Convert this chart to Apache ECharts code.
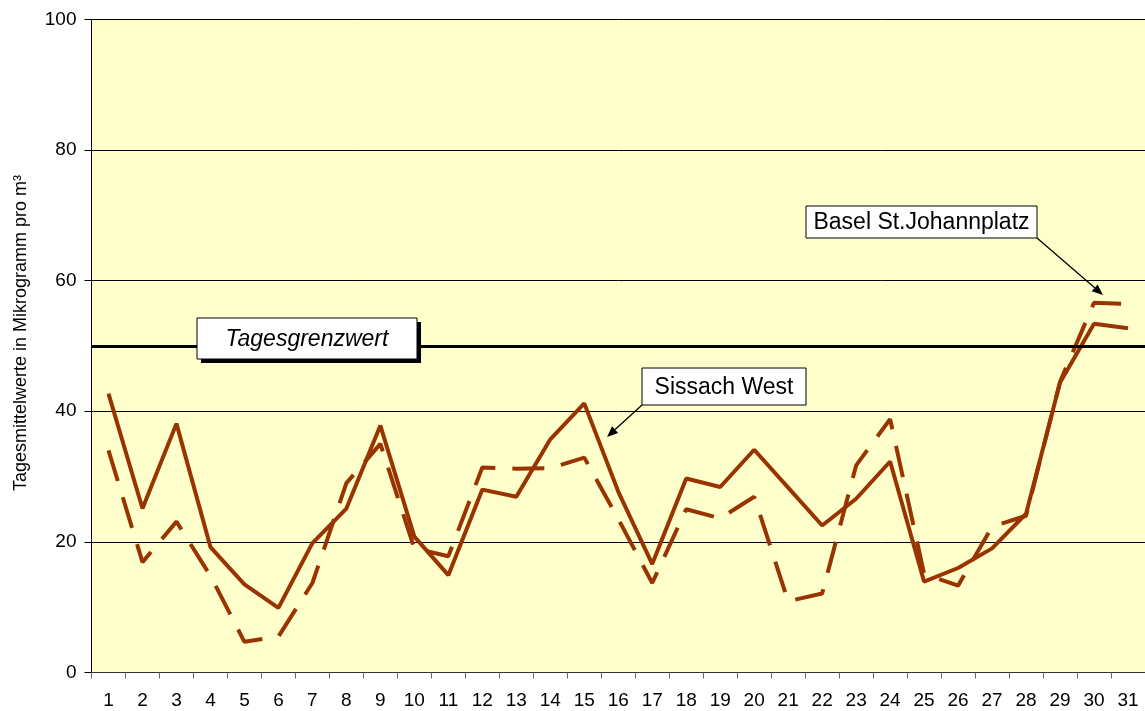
<!DOCTYPE html>
<html>
<head>
    <meta charset="utf-8">
    <title>Tagesmittelwerte</title>
    <script src="https://cdn.jsdelivr.net/npm/echarts@6/dist/echarts.min.js"></script>
    <style>
        html, body { margin: 0; padding: 0; background: #fff; }
        #chart { width: 1145px; height: 711px; }
    </style>
</head>
<body>
<div id="chart"></div>
<script type="text/javascript">
    // Tage im Monat
    var days = ['1','2','3','4','5','6','7','8','9','10','11','12','13','14','15','16',
                '17','18','19','20','21','22','23','24','25','26','27','28','29','30','31'];
    // Sissach West (ausgezogen)
    var sissach = [42.7, 25.1, 38.1, 19.2, 13.5, 9.9, 19.8, 25.1, 37.8, 20.8, 14.9, 28.0, 26.9, 35.7, 41.2, 27.7,
                   16.6, 29.7, 28.4, 34.1, 28.3, 22.5, 26.6, 32.3, 13.9, 16.0, 19.0, 24.3, 44.4, 53.4, 52.7];
    // Basel St.Johannplatz (gestrichelt)
    var basel = [34.0, 16.9, 23.1, 14.8, 4.7, 5.5, 13.7, 29.0, 35.0, 19.0, 17.8, 31.4, 31.2, 31.3, 32.9, 23.5,
                 13.7, 25.0, 23.6, 26.9, 10.9, 12.1, 31.7, 38.8, 15.1, 13.3, 22.3, 24.0, 44.5, 56.6, 56.4];
    // Tagesgrenzwert
    var limit = 50;
    var yTicks = [0, 20, 40, 60, 80, 100];

    var font = "'Liberation Sans', Arial, sans-serif";
    var brown = '#993300';

    // Pfeil von (x1,y1) nach (x2,y2)
    function arrow(x1, y1, x2, y2) {
        var dx = x2 - x1, dy = y2 - y1;
        var len = Math.sqrt(dx * dx + dy * dy);
        var ux = dx / len, uy = dy / len;
        var hl = 11, hw = 4.5;
        var bx = x2 - ux * hl, by = y2 - uy * hl;
        return [
            {type: 'line', z: 100, shape: {x1: x1, y1: y1, x2: bx, y2: by},
                style: {stroke: '#000', lineWidth: 1.3}},
            {type: 'polygon', z: 100, shape: {points: [[x2, y2], [bx - uy * hw, by + ux * hw], [bx + uy * hw, by - ux * hw]]},
                style: {fill: '#000'}}
        ];
    }

    function box(x, y, w, h, text, italic, shadow) {
        var els = [];
        if (shadow) {
            els.push({type: 'rect', z: 100, shape: {x: x + 4, y: y + 4, width: w, height: h}, style: {fill: '#000'}});
        }
        els.push({type: 'rect', z: 101, shape: {x: x, y: y, width: w, height: h},
            style: {fill: '#fff', stroke: '#000', lineWidth: 1}});
        els.push({type: 'text', z: 102, x: x + w / 2, y: y + h / 2 + 1,
            style: {text: text, fill: '#000', font: (italic ? 'italic ' : '') + '23px ' + font,
                align: 'center', verticalAlign: 'middle'}});
        return els;
    }

    var graphics = []
        .concat(box(197, 318, 220, 41, 'Tagesgrenzwert', true, true))
        .concat(box(642, 368, 164, 37, 'Sissach West', false, false))
        .concat(arrow(642, 405, 607, 437))
        .concat(box(806, 206, 231, 32, 'Basel St.Johannplatz', false, false))
        .concat(arrow(1037, 238, 1103, 295))
        .concat([{
            type: 'text', z: 100, x: 21, y: 333, rotation: Math.PI / 2,
            style: {text: 'Tagesmittelwerte in Mikrogramm pro m³', fill: '#000', font: '18px ' + font,
                align: 'center', verticalAlign: 'middle'}
        }]);

    var myChart = echarts.init(document.getElementById('chart'));
    myChart.setOption({
        animation: false,
        backgroundColor: '#fff',
        grid: {
            show: true,
            left: 91.5,
            top: 19.3,
            width: 1060,
            bottom: 38.5,
            backgroundColor: '#FFFFCC',
            borderWidth: 0
        },
        xAxis: {
            type: 'category',
            data: days,
            boundaryGap: true,
            axisLine: {lineStyle: {color: '#333', width: 1}},
            axisTick: {show: true, length: 6, lineStyle: {color: '#666'}},
            axisLabel: {interval: 0, margin: 19, color: '#000', fontSize: 19, fontFamily: font}
        },
        yAxis: {
            type: 'value',
            min: yTicks[0],
            max: yTicks[yTicks.length - 1],
            interval: 20,
            axisLine: {show: true, lineStyle: {color: '#000', width: 1}},
            axisTick: {show: true, length: 7, lineStyle: {color: '#000'}},
            axisLabel: {margin: 15, color: '#000', fontSize: 19, fontFamily: font},
            splitLine: {show: true, lineStyle: {color: '#000', width: 1}}
        },
        graphic: graphics,
        series: [
            {
                name: 'Basel St.Johannplatz',
                type: 'line',
                data: basel,
                symbol: 'none',
                lineStyle: {color: brown, width: 4, type: [32, 17], cap: 'butt'}
            },
            {
                name: 'Sissach West',
                type: 'line',
                data: sissach,
                symbol: 'none',
                lineStyle: {color: brown, width: 4},
                markLine: {
                    silent: true,
                    symbol: ['none', 'none'],
                    label: {show: false},
                    lineStyle: {color: '#000', width: 3, type: 'solid'},
                    data: [{yAxis: limit}]
                }
            }
        ]
    });
</script>
</body>
</html>
